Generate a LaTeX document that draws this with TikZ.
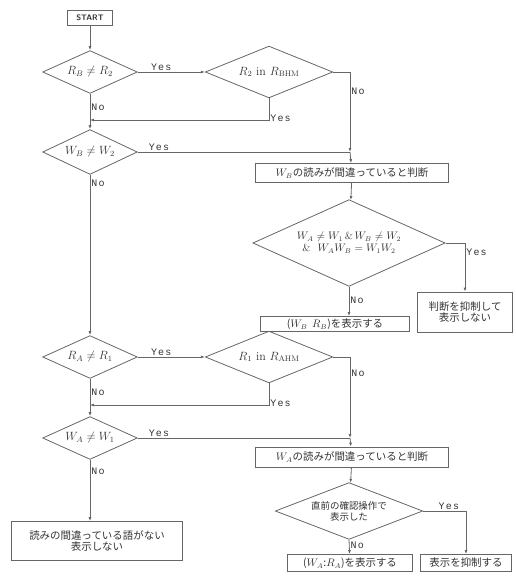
\documentclass[tikz,border=0pt]{standalone}
\usepackage{fontspec}
\newfontfamily\jpfont{Noto Sans CJK JP}
\newfontfamily\ynfont[LetterSpace=12]{Liberation Mono}
\usetikzlibrary{arrows.meta, shapes.geometric, positioning}

\begin{document}
\begin{tikzpicture}[
    x=1bp, y=-1bp,
    every node/.style={text=black!80},
    box/.style={rectangle,draw=black!60,thick,inner sep=1pt,align=center,font=\jpfont\fontsize{10.5}{12}\selectfont},
    decision/.style={diamond,draw=black!60,thick,inner sep=0pt,aspect=2.3,align=center,font=\fontsize{12}{13}\selectfont},
    arrow/.style={-{Latex[length=4pt,width=3pt]},draw=black!60,thick},
    line/.style={draw=black!60,thick},
    lbl/.style={font=\ynfont\fontsize{10}{11}\selectfont,inner sep=1pt}
]
\useasboundingbox (0,0) rectangle (516,580);

% first half
\node[box,minimum width=45,minimum height=15,font=\sffamily\bfseries\fontsize{8}{9}\selectfont] (start) at (90,18) {START};
\node[decision,minimum width=95,minimum height=43] (d1) at (90,72) {$R_B \neq R_2$};
\node[decision,aspect=2.5,minimum width=128,minimum height=52] (d2) at (269,72) {$R_2$ in $R_{\mathrm{BHM}}$};
\coordinate (m1) at (90,120);
\node[decision,minimum width=95,minimum height=45] (d3) at (90,152) {$W_B \neq W_2$};
\coordinate (j1) at (350,152);
\node[box,minimum width=194,minimum height=19] (wb) at (352,173) {$W_B$の読みが間違っていると判断};
\node[decision,aspect=2.4,minimum width=193,minimum height=87,font=\fontsize{10.5}{12}\selectfont] (d4) at (349,243) {$W_A\neq W_1$\,\&\,$W_B\neq W_2$\\\&\ \ $W_AW_B = W_1W_2$};
\node[box,minimum width=150,minimum height=15] (out1) at (335,324) {($W_B$\ \ $R_B$)を表示する};
\node[box,minimum width=95,minimum height=40] (sup1) at (465,312) {判断を抑制して\\表示しない};

% second half
\node[decision,minimum width=95,minimum height=43] (d5) at (90,357) {$R_A \neq R_1$};
\node[decision,aspect=2.5,minimum width=128,minimum height=52] (d6) at (269,357) {$R_1$ in $R_{\mathrm{AHM}}$};
\coordinate (m2) at (90,405);
\node[decision,minimum width=95,minimum height=43] (d7) at (90,438) {$W_A \neq W_1$};
\coordinate (j2) at (350,438);
\node[box,minimum width=194,minimum height=20] (wa) at (352,457) {$W_A$の読みが間違っていると判断};
\node[decision,aspect=2.6,minimum width=148,minimum height=57,font=\jpfont\fontsize{9.5}{11}\selectfont] (d8) at (349,511) {直前の確認操作で\\表示した};
\node[box,minimum width=125,minimum height=17] (out2) at (350,563) {($W_A$:$R_A$)を表示する};
\node[box,minimum width=92,minimum height=17] (sup2) at (466,563) {表示を抑制する};
\node[box,minimum width=171,minimum height=39] (none) at (97,541) {読みの間違っている語がない\\表示しない};

% connectors
\draw[arrow] (start) -- (d1);
\draw[arrow] (d1.east) -- node[lbl,above,pos=0.35] {Yes} (d2.west);
\draw[arrow] (d2.east) -| node[lbl,right,pos=0.62] {No} (j1);
\draw[arrow] (d2.south) |- node[lbl,right,pos=0.45] {Yes} (m1);
\draw[line] (d1.south) -- node[lbl,right,pos=0.5] {No} (m1);
\draw[arrow] (m1) -- (d3);
\draw[line] (d3.east) -- node[lbl,above,pos=0.1] {Yes} (j1);
\draw[arrow] (j1) -- (wb);
\draw[arrow] (wb) -- (d4);
\draw[arrow] (d4.south) -- node[lbl,right,pos=0.45] {No} (d4.south |- out1.north);
\draw[arrow] (d4.east) -| node[lbl,right,pos=0.6] {Yes} (sup1.north);
\draw[arrow] (d3.south) -- node[lbl,right,pos=0.05] {No} (d5);
\draw[arrow] (d5.east) -- node[lbl,above,pos=0.35] {Yes} (d6.west);
\draw[arrow] (d6.east) -| node[lbl,right,pos=0.6] {No} (j2);
\draw[arrow] (d6.south) |- node[lbl,right,pos=0.45] {Yes} (m2);
\draw[line] (d5.south) -- node[lbl,right,pos=0.5] {No} (m2);
\draw[arrow] (m2) -- (d7);
\draw[line] (d7.east) -- node[lbl,above,pos=0.1] {Yes} (j2);
\draw[arrow] (j2) -- (wa);
\draw[arrow] (wa) -- (d8);
\draw[arrow] (d8.south) -- node[lbl,right,pos=0.35] {No} (out2);
\draw[arrow] (d8.east) -| node[lbl,above,pos=0.3] {Yes} (sup2.north);
\draw[arrow] (d7.south) -- node[lbl,right,pos=0.18] {No} (d7.south |- none.north);
\end{tikzpicture}
\end{document}
